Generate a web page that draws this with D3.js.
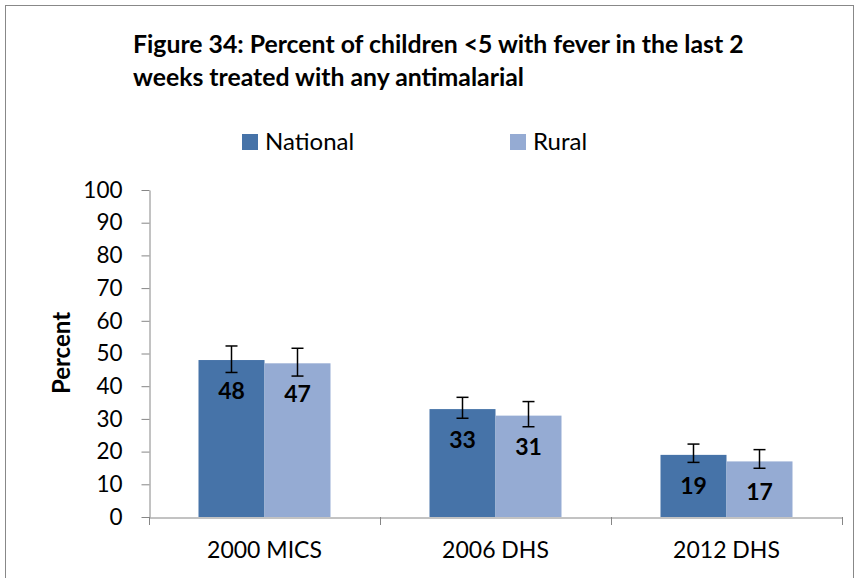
<!DOCTYPE html>
<html><head><meta charset="utf-8">
<script src="https://cdn.jsdelivr.net/npm/d3@7"></script>
<style>body{margin:0;background:#fff}svg{display:block}</style>
</head><body>
<script>
const categories = ["2000 MICS", "2006 DHS", "2012 DHS"];
const seriesNames = ["National", "Rural"];
const national = [48, 33, 19];
const rural = [47, 31, 17];
const nationalLow = [44.2, 30.2, 16.7];
const nationalHigh = [52.3, 36.6, 22.3];
const ruralLow = [43.1, 27.6, 14.9];
const ruralHigh = [51.6, 35.3, 20.6];
const yTicks = [0, 10, 20, 30, 40, 50, 60, 70, 80, 90, 100];
const titleLines = ["Figure 34: Percent of children <5 with fever in the last 2", "weeks treated with any antimalarial"];
const colors = ["#4673A8", "#95ABD3"];

const W = 859, H = 578;
const font = "Lato, 'Open Sans', sans-serif";
const svg = d3.select("body").append("svg").attr("width", W).attr("height", H);

// outer border
svg.append("rect").attr("x", 5.5).attr("y", 5.5).attr("width", 848).attr("height", 590)
  .attr("fill", "none").attr("stroke", "#888").attr("stroke-width", 1);

// title
svg.append("g").selectAll("text").data(titleLines).join("text")
  .attr("x", 133).attr("y", (d, i) => 53 + i * 33)
  .attr("font-family", font).attr("font-weight", "bold").attr("font-size", 24.8)
  .attr("fill", "#000").text(d => d);

const x0 = 149, x1 = 842, yTop = 190, yBot = 517;
const x = d3.scaleBand().domain(categories).range([x0, x1]).paddingInner(0).paddingOuter(0);
const y = d3.scaleLinear().domain([0, 100]).range([yBot, yTop]);
const groupW = 132;
const sub = d3.scaleBand().domain(seriesNames).range([(x.bandwidth() - groupW) / 2, (x.bandwidth() + groupW) / 2]);

const data = categories.map((c, i) => ({
  cat: c,
  vals: [
    {s: "National", v: national[i], lo: nationalLow[i], hi: nationalHigh[i]},
    {s: "Rural", v: rural[i], lo: ruralLow[i], hi: ruralHigh[i]}
  ]
}));

// y axis
const yAxis = d3.axisLeft(y).tickValues(yTicks).tickSize(8).tickSizeOuter(0).tickPadding(19);
const gy = svg.append("g").attr("transform", `translate(${x0 + 0.5},0)`).call(yAxis);
gy.select(".domain").attr("stroke", "#868686");
gy.selectAll(".tick line").attr("stroke", "#868686");
gy.selectAll(".tick text").attr("font-family", font).attr("font-size", 22.5).attr("fill", "#000");

// bars
const groups = svg.append("g").selectAll("g").data(data).join("g")
  .attr("transform", d => `translate(${x(d.cat)},0)`);
groups.selectAll("rect").data(d => d.vals).join("rect")
  .attr("x", d => sub(d.s)).attr("width", sub.bandwidth())
  .attr("y", d => y(d.v)).attr("height", d => y(0) - y(d.v))
  .attr("fill", (d, i) => colors[i]);

// error bars
const eb = groups.selectAll("g.err").data(d => d.vals).join("g").attr("class", "err")
  .attr("transform", d => `translate(${sub(d.s) + sub.bandwidth() / 2},0)`);
eb.append("line").attr("x1", 0).attr("x2", 0).attr("y1", d => y(d.hi)).attr("y2", d => y(d.lo))
  .attr("stroke", "#000").attr("stroke-width", 1.5);
eb.append("line").attr("x1", -6).attr("x2", 6).attr("y1", d => y(d.hi)).attr("y2", d => y(d.hi))
  .attr("stroke", "#000").attr("stroke-width", 1.5);
eb.append("line").attr("x1", -6).attr("x2", 6).attr("y1", d => y(d.lo)).attr("y2", d => y(d.lo))
  .attr("stroke", "#000").attr("stroke-width", 1.5);

// value labels
groups.selectAll("text.val").data(d => d.vals).join("text").attr("class", "val")
  .attr("x", d => sub(d.s) + sub.bandwidth() / 2).attr("y", d => y(d.v) + 39)
  .attr("text-anchor", "middle").attr("font-family", font).attr("font-weight", "bold")
  .attr("font-size", 23).attr("fill", "#000").text(d => d.v);

// x axis
const xAxis = d3.axisBottom(x).tickSize(0).tickPadding(24);
const gx = svg.append("g").attr("transform", `translate(0,${yBot + 0.5})`).call(xAxis);
gx.select(".domain").attr("stroke", "#868686");
gx.selectAll(".tick text").attr("font-family", font).attr("font-size", 23).attr("fill", "#000");
const bounds = [x0, ...categories.map(c => x(c) + x.bandwidth())];
svg.append("g").selectAll("line").data(bounds).join("line")
  .attr("x1", d => Math.round(d) + 0.5).attr("x2", d => Math.round(d) + 0.5)
  .attr("y1", yBot).attr("y2", yBot + 8).attr("stroke", "#868686");

// y title
svg.append("text").attr("transform", `translate(70,353) rotate(-90)`)
  .attr("text-anchor", "middle").attr("font-family", font).attr("font-weight", "bold")
  .attr("font-size", 24).attr("fill", "#000").text("Percent");

// legend
const legX = [242, 510];
const leg = svg.append("g").selectAll("g").data(seriesNames).join("g")
  .attr("transform", (d, i) => `translate(${legX[i]},134)`);
leg.append("rect").attr("width", 16).attr("height", 16).attr("fill", (d, i) => colors[i]);
leg.append("text").attr("x", 23).attr("y", 16).attr("font-family", font).attr("font-size", 24)
  .attr("fill", "#000").text(d => d);
</script>
</body></html>
